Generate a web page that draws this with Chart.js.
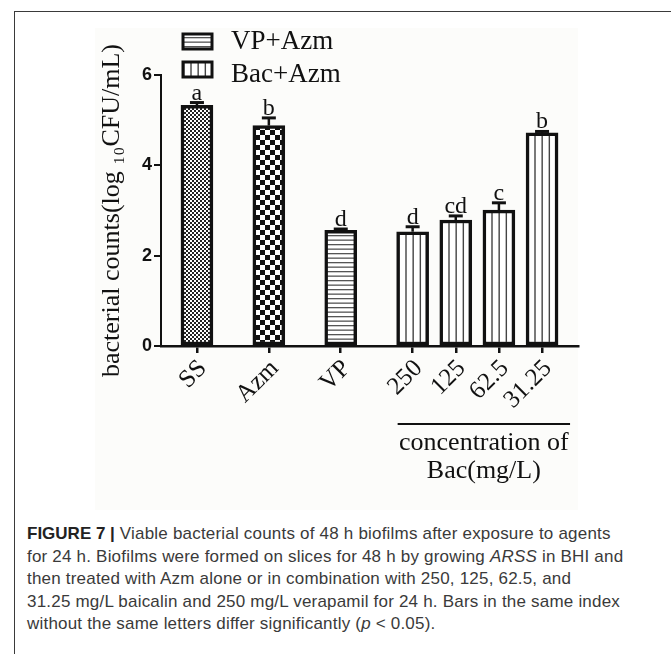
<!DOCTYPE html>
<html>
<head>
<meta charset="utf-8">
<script src="https://cdn.jsdelivr.net/npm/chart.js@4.4.0/dist/chart.umd.min.js"></script>
<style>
  body { margin: 0; background: #fff; width: 671px; height: 654px; overflow: hidden; position: relative; }
  #frame { position: absolute; left: 14px; top: 11px; right: 0; bottom: 0; border-top: 1.5px solid #3a3a3a; border-left: 1.5px solid #3a3a3a; }
  #figbg { position: absolute; left: 95px; top: 28px; width: 483px; height: 482px; background: #fcfcfa; }
  #chart { position: absolute; left: 0; top: 0; }
  #caption { position: absolute; left: 27px; top: 523px; font-family: "Liberation Sans", Arial, sans-serif; font-size: 17px; letter-spacing: 0.2px; line-height: 22.6px; color: #3a3a3a; white-space: nowrap; }
  #caption b { color: #222; letter-spacing: 0; }
</style>
</head>
<body>
<div id="frame"></div>
<div id="figbg"></div>
<canvas id="chart" width="671" height="515"></canvas>
<div id="caption">
  <b>FIGURE 7 |</b> Viable bacterial counts of 48 h biofilms after exposure to agents<br>
  for 24 h. Biofilms were formed on slices for 48 h by growing <i>ARSS</i> in BHI and<br>
  then treated with Azm alone or in combination with 250, 125, 62.5, and<br>
  31.25 mg/L baicalin and 250 mg/L verapamil for 24 h. Bars in the same index<br>
  without the same letters differ significantly (<i>p</i> &lt; 0.05).
</div>
<script>
// data
const categories = ['SS', 'Azm', 'VP', '250', '125', '62.5', '31.25'];
const means = [5.33, 4.88, 2.56, 2.53, 2.79, 3.01, 4.72];
const errors = [0.06, 0.17, 0.03, 0.11, 0.09, 0.16, 0.03];
const letters = ['a', 'b', 'd', 'd', 'cd', 'c', 'b'];
const seriesNames = ['SS', 'Azm', 'VP+Azm', 'Bac+Azm'];
const seriesMembers = [[0], [1], [2], [3, 4, 5, 6]];
const legendSeries = [2, 3];
const yTicks = [0, 2, 4, 6];
const yTitle = 'bacterial counts(log \u2081\u2080CFU/mL)';
const groupTitle = ['concentration of', 'Bac(mg/L)'];

// layout only: slot of each category on the x axis (gaps between groups)
const slots = [0, 5, 10, 15, 18, 21, 24];

const INK = '#111';
const SERIF = '"Liberation Serif", "Times New Roman", serif';

function makePattern(w, h, draw) {
    const c = document.createElement('canvas');
    c.width = w;
    c.height = h;
    const g = c.getContext('2d');
    g.fillStyle = '#fff';
    g.fillRect(0, 0, w, h);
    draw(g);
    return g.createPattern(c, 'repeat');
}

const ctxMain = document.getElementById('chart').getContext('2d');

const patterns = [
    // fine checker
    makePattern(4, 4, g => {
        g.fillStyle = '#222';
        g.fillRect(0, 0, 2, 2);
        g.fillRect(2, 2, 2, 2);
    }),
    // coarse checker
    makePattern(10, 10, g => {
        g.fillStyle = '#111';
        g.fillRect(0, 0, 5, 5);
        g.fillRect(5, 5, 5, 5);
    }),
    // horizontal stripes
    makePattern(4, 9, g => {
        g.fillStyle = '#555';
        g.fillRect(0, 1, 4, 1.3);
        g.fillRect(0, 5.5, 4, 1.3);
    }),
    // vertical stripes, 6 per 43px so every bar looks alike
    makePattern(43, 4, g => {
        g.fillStyle = '#444';
        for (let k = 0; k < 6; k++) {
            const px = (19 + k * 43 / 6) % 43;
            g.fillRect(px - 0.7, 0, 1.4, 4);
        }
    })
];

const datasets = seriesMembers.map((members, s) => ({
    label: seriesNames[s],
    members: members,
    data: members.map(i => ({ x: slots[i], y: means[i] })),
    backgroundColor: patterns[s],
    borderColor: INK,
    borderWidth: 3.5,
    borderSkipped: false,
    barThickness: 32,
    grouped: false
}));

const extras = {
    id: 'extras',
    afterDatasetsDraw(chart) {
        const ctx = chart.ctx;
        const xs = chart.scales.x;
        const ys = chart.scales.y;
        ctx.save();
        ctx.strokeStyle = INK;
        ctx.fillStyle = INK;

        // error bars (upper only) + significance letters
        chart.data.datasets.forEach((ds, d) => {
            chart.getDatasetMeta(d).data.forEach((bar, j) => {
                const i = ds.members[j];
                const top = ys.getPixelForValue(means[i]);
                const capY = ys.getPixelForValue(means[i] + errors[i]);
                ctx.lineWidth = 2.5;
                ctx.beginPath();
                ctx.moveTo(bar.x, top);
                ctx.lineTo(bar.x, capY);
                ctx.stroke();
                ctx.lineWidth = 3;
                ctx.beginPath();
                ctx.moveTo(bar.x - 7, capY);
                ctx.lineTo(bar.x + 7, capY);
                ctx.stroke();
                ctx.font = '24px ' + SERIF;
                ctx.textAlign = 'center';
                ctx.textBaseline = 'alphabetic';
                ctx.fillText(letters[i], bar.x, capY - 3);
            });
        });

        // underline + title for the Bac concentrations
        const g0 = xs.getPixelForValue(slots[3]) - 15;
        const g1 = xs.getPixelForValue(slots[6]) + 28;
        ctx.lineWidth = 2;
        ctx.beginPath();
        ctx.moveTo(g0, 424);
        ctx.lineTo(g1, 424);
        ctx.stroke();
        ctx.font = '26px ' + SERIF;
        ctx.textAlign = 'center';
        ctx.fillText(groupTitle[0], (g0 + g1) / 2, 450);
        ctx.fillText(groupTitle[1], (g0 + g1) / 2, 478);

        // legend
        legendSeries.forEach((s, k) => {
            const bx = 183, by = 34 + k * 28;
            ctx.fillStyle = chart.data.datasets[s].backgroundColor;
            ctx.fillRect(bx, by, 29, 15);
            ctx.lineWidth = 3;
            ctx.strokeStyle = INK;
            ctx.strokeRect(bx, by, 29, 15);
            ctx.fillStyle = INK;
            ctx.font = '27px ' + SERIF;
            ctx.textAlign = 'left';
            ctx.fillText(chart.data.datasets[s].label, 231, 49 + k * 32.5);
        });
        ctx.restore();
    }
};

new Chart(ctxMain, {
    type: 'bar',
    data: { datasets: datasets },
    options: {
        responsive: false,
        animation: false,
        layout: { padding: { left: 94, top: 75, right: 93, bottom: 0 } },
        plugins: { legend: { display: false }, tooltip: { enabled: false } },
        scales: {
            x: {
                type: 'linear',
                offset: false,
                min: -2.5,
                max: 26.5,
                afterBuildTicks: s => { s.ticks = slots.map(v => ({ value: v })); },
                afterFit: s => { s.height = 515 - 346; },
                ticks: {
                    autoSkip: false,
                    minRotation: 45,
                    maxRotation: 45,
                    padding: 1,
                    labelOffset: 6,
                    color: INK,
                    font: { family: SERIF, size: 25 },
                    callback: (v, idx) => categories[idx]
                },
                grid: { offset: false, drawOnChartArea: false, drawTicks: true, tickLength: 7, color: INK, lineWidth: 2.5 },
                border: { display: true, color: INK, width: 2.5 }
            },
            y: {
                min: 0,
                max: 6,
                afterBuildTicks: s => { s.ticks = yTicks.map(v => ({ value: v })); },
                afterFit: s => { s.width = 161 - 94; },
                ticks: {
                    padding: 2,
                    color: INK,
                    font: { family: '"Liberation Sans", Arial, sans-serif', size: 18, weight: 'bold' }
                },
                grid: { drawOnChartArea: false, drawTicks: true, tickLength: 7, color: INK, lineWidth: 2 },
                border: { display: true, color: INK, width: 2 },
                title: {
                    display: true,
                    text: yTitle,
                    color: INK,
                    font: { family: SERIF, size: 26 },
                    padding: { top: 3, bottom: 0 }
                }
            }
        }
    },
    plugins: [extras]
});
</script>
</body>
</html>
